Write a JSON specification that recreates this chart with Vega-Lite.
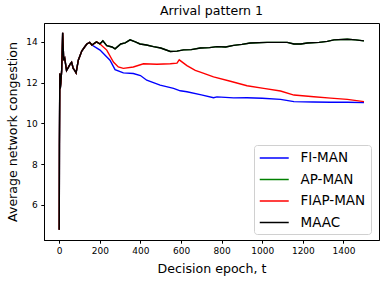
{
  "$schema": "https://vega.github.io/schema/vega-lite/v6.json",
  "width": 335,
  "height": 217,
  "autosize": {"type": "none"},
  "padding": {"left": 44, "top": 23, "right": 6, "bottom": 45},
  "background": "white",
  "title": {"text": "Arrival pattern 1", "font": "DejaVu Sans", "fontSize": 12.6, "fontWeight": "normal", "color": "black", "offset": 5},
  "config": {
    "view": {"stroke": "black", "strokeWidth": 1},
    "axis": {"grid": false, "domainColor": "black", "tickColor": "black", "tickSize": 3.2, "labelFont": "DejaVu Sans", "labelFontSize": 9, "labelColor": "black", "labelPadding": 3.5, "titleFont": "DejaVu Sans", "titleFontSize": 12.6, "titleFontWeight": "normal", "titleColor": "black"},
    "legend": {"orient": "none", "legendX": 210, "legendY": 122, "padding": 5, "strokeColor": "#d0d0d0", "fillColor": "rgba(255,255,255,0.8)", "cornerRadius": 3, "symbolType": "M-1,0H3", "symbolSize": 210, "symbolStrokeWidth": 1.5, "symbolFillColor": "transparent", "labelFont": "DejaVu Sans", "labelFontSize": 13.5, "labelColor": "black", "labelOffset": 25.5, "rowPadding": 6.5, "labelLimit": 200}
  },
  "data": {"values": [
    {"s":"FI-MAN","t":0,"y":4.77},{"s":"FI-MAN","t":1,"y":9.0},{"s":"FI-MAN","t":3,"y":12.45},{"s":"FI-MAN","t":5,"y":11.7},{"s":"FI-MAN","t":8,"y":12.0},{"s":"FI-MAN","t":12,"y":12.6},{"s":"FI-MAN","t":17,"y":14.45},{"s":"FI-MAN","t":22,"y":13.1},{"s":"FI-MAN","t":27,"y":13.2},{"s":"FI-MAN","t":36,"y":12.6},{"s":"FI-MAN","t":45,"y":12.75},{"s":"FI-MAN","t":53,"y":12.9},{"s":"FI-MAN","t":61,"y":13.0},{"s":"FI-MAN","t":69,"y":12.7},{"s":"FI-MAN","t":76,"y":12.6},{"s":"FI-MAN","t":83,"y":12.48},{"s":"FI-MAN","t":94,"y":13.1},{"s":"FI-MAN","t":111,"y":13.55},{"s":"FI-MAN","t":125,"y":13.75},{"s":"FI-MAN","t":136,"y":13.9},{"s":"FI-MAN","t":150,"y":13.98},{"s":"FI-MAN","t":161,"y":13.85},
    {"s":"FI-MAN","t":201,"y":13.6},{"s":"FI-MAN","t":250,"y":13.1},{"s":"FI-MAN","t":275,"y":12.64},{"s":"FI-MAN","t":316,"y":12.48},{"s":"FI-MAN","t":365,"y":12.45},{"s":"FI-MAN","t":400,"y":12.35},{"s":"FI-MAN","t":431,"y":12.12},{"s":"FI-MAN","t":497,"y":11.88},{"s":"FI-MAN","t":563,"y":11.72},{"s":"FI-MAN","t":596,"y":11.6},{"s":"FI-MAN","t":629,"y":11.55},{"s":"FI-MAN","t":700,"y":11.4},{"s":"FI-MAN","t":760,"y":11.26},{"s":"FI-MAN","t":777,"y":11.3},{"s":"FI-MAN","t":859,"y":11.25},{"s":"FI-MAN","t":925,"y":11.26},{"s":"FI-MAN","t":1000,"y":11.23},{"s":"FI-MAN","t":1090,"y":11.18},{"s":"FI-MAN","t":1156,"y":11.07},{"s":"FI-MAN","t":1250,"y":11.05},{"s":"FI-MAN","t":1337,"y":11.04},{"s":"FI-MAN","t":1420,"y":11.04},{"s":"FI-MAN","t":1501,"y":11.02},
    {"s":"AP-MAN","t":0,"y":4.77},{"s":"AP-MAN","t":1,"y":9.0},{"s":"AP-MAN","t":3,"y":12.45},{"s":"AP-MAN","t":5,"y":11.7},{"s":"AP-MAN","t":8,"y":12.0},{"s":"AP-MAN","t":12,"y":12.6},{"s":"AP-MAN","t":17,"y":14.45},{"s":"AP-MAN","t":22,"y":13.1},{"s":"AP-MAN","t":27,"y":13.2},{"s":"AP-MAN","t":36,"y":12.6},{"s":"AP-MAN","t":45,"y":12.75},{"s":"AP-MAN","t":53,"y":12.9},{"s":"AP-MAN","t":61,"y":13.0},{"s":"AP-MAN","t":69,"y":12.7},{"s":"AP-MAN","t":76,"y":12.6},{"s":"AP-MAN","t":83,"y":12.48},{"s":"AP-MAN","t":94,"y":13.1},{"s":"AP-MAN","t":111,"y":13.55},{"s":"AP-MAN","t":125,"y":13.75},{"s":"AP-MAN","t":136,"y":13.9},{"s":"AP-MAN","t":150,"y":13.98},{"s":"AP-MAN","t":161,"y":13.85},
    {"s":"AP-MAN","t":183,"y":14.0},{"s":"AP-MAN","t":200,"y":13.9},{"s":"AP-MAN","t":215,"y":14.05},{"s":"AP-MAN","t":234,"y":13.82},{"s":"AP-MAN","t":260,"y":13.75},{"s":"AP-MAN","t":275,"y":13.66},{"s":"AP-MAN","t":303,"y":13.9},{"s":"AP-MAN","t":325,"y":13.95},{"s":"AP-MAN","t":349,"y":14.1},{"s":"AP-MAN","t":375,"y":14.0},{"s":"AP-MAN","t":398,"y":13.9},{"s":"AP-MAN","t":430,"y":13.85},{"s":"AP-MAN","t":464,"y":13.77},{"s":"AP-MAN","t":500,"y":13.7},{"s":"AP-MAN","t":547,"y":13.53},{"s":"AP-MAN","t":580,"y":13.55},{"s":"AP-MAN","t":612,"y":13.61},{"s":"AP-MAN","t":650,"y":13.62},{"s":"AP-MAN","t":695,"y":13.7},{"s":"AP-MAN","t":740,"y":13.72},{"s":"AP-MAN","t":777,"y":13.77},{"s":"AP-MAN","t":820,"y":13.75},{"s":"AP-MAN","t":859,"y":13.83},{"s":"AP-MAN","t":900,"y":13.88},{"s":"AP-MAN","t":941,"y":13.95},{"s":"AP-MAN","t":1024,"y":13.98},{"s":"AP-MAN","t":1080,"y":13.98},{"s":"AP-MAN","t":1123,"y":13.98},{"s":"AP-MAN","t":1156,"y":13.9},{"s":"AP-MAN","t":1190,"y":13.9},{"s":"AP-MAN","t":1222,"y":13.95},{"s":"AP-MAN","t":1280,"y":13.98},{"s":"AP-MAN","t":1320,"y":14.03},{"s":"AP-MAN","t":1353,"y":14.1},{"s":"AP-MAN","t":1419,"y":14.13},{"s":"AP-MAN","t":1460,"y":14.1},{"s":"AP-MAN","t":1501,"y":14.05},
    {"s":"FIAP-MAN","t":0,"y":4.77},{"s":"FIAP-MAN","t":1,"y":9.0},{"s":"FIAP-MAN","t":3,"y":12.45},{"s":"FIAP-MAN","t":5,"y":11.7},{"s":"FIAP-MAN","t":8,"y":12.0},{"s":"FIAP-MAN","t":12,"y":12.6},{"s":"FIAP-MAN","t":17,"y":14.45},{"s":"FIAP-MAN","t":22,"y":13.1},{"s":"FIAP-MAN","t":27,"y":13.2},{"s":"FIAP-MAN","t":36,"y":12.6},{"s":"FIAP-MAN","t":45,"y":12.75},{"s":"FIAP-MAN","t":53,"y":12.9},{"s":"FIAP-MAN","t":61,"y":13.0},{"s":"FIAP-MAN","t":69,"y":12.7},{"s":"FIAP-MAN","t":76,"y":12.6},{"s":"FIAP-MAN","t":83,"y":12.48},{"s":"FIAP-MAN","t":94,"y":13.1},{"s":"FIAP-MAN","t":111,"y":13.55},{"s":"FIAP-MAN","t":125,"y":13.75},{"s":"FIAP-MAN","t":136,"y":13.9},{"s":"FIAP-MAN","t":150,"y":13.98},{"s":"FIAP-MAN","t":161,"y":13.85},
    {"s":"FIAP-MAN","t":185,"y":14.0},{"s":"FIAP-MAN","t":201,"y":13.9},{"s":"FIAP-MAN","t":234,"y":13.6},{"s":"FIAP-MAN","t":267,"y":13.01},{"s":"FIAP-MAN","t":291,"y":12.77},{"s":"FIAP-MAN","t":316,"y":12.7},{"s":"FIAP-MAN","t":365,"y":12.77},{"s":"FIAP-MAN","t":415,"y":12.93},{"s":"FIAP-MAN","t":481,"y":12.9},{"s":"FIAP-MAN","t":547,"y":12.93},{"s":"FIAP-MAN","t":580,"y":12.96},{"s":"FIAP-MAN","t":591,"y":13.12},{"s":"FIAP-MAN","t":629,"y":12.84},{"s":"FIAP-MAN","t":670,"y":12.6},{"s":"FIAP-MAN","t":695,"y":12.52},{"s":"FIAP-MAN","t":760,"y":12.28},{"s":"FIAP-MAN","t":843,"y":12.07},{"s":"FIAP-MAN","t":925,"y":11.85},{"s":"FIAP-MAN","t":1007,"y":11.72},{"s":"FIAP-MAN","t":1090,"y":11.59},{"s":"FIAP-MAN","t":1156,"y":11.39},{"s":"FIAP-MAN","t":1254,"y":11.31},{"s":"FIAP-MAN","t":1337,"y":11.24},{"s":"FIAP-MAN","t":1419,"y":11.18},{"s":"FIAP-MAN","t":1501,"y":11.07},
    {"s":"MAAC","t":0,"y":4.77},{"s":"MAAC","t":1,"y":9.0},{"s":"MAAC","t":3,"y":12.45},{"s":"MAAC","t":5,"y":11.7},{"s":"MAAC","t":8,"y":12.0},{"s":"MAAC","t":12,"y":12.6},{"s":"MAAC","t":17,"y":14.45},{"s":"MAAC","t":22,"y":13.1},{"s":"MAAC","t":27,"y":13.2},{"s":"MAAC","t":36,"y":12.6},{"s":"MAAC","t":45,"y":12.75},{"s":"MAAC","t":53,"y":12.9},{"s":"MAAC","t":61,"y":13.0},{"s":"MAAC","t":69,"y":12.7},{"s":"MAAC","t":76,"y":12.6},{"s":"MAAC","t":83,"y":12.48},{"s":"MAAC","t":94,"y":13.1},{"s":"MAAC","t":111,"y":13.55},{"s":"MAAC","t":125,"y":13.75},{"s":"MAAC","t":136,"y":13.9},{"s":"MAAC","t":150,"y":13.98},{"s":"MAAC","t":161,"y":13.85},
    {"s":"MAAC","t":183,"y":14.0},{"s":"MAAC","t":200,"y":13.9},{"s":"MAAC","t":215,"y":14.05},{"s":"MAAC","t":234,"y":13.82},{"s":"MAAC","t":260,"y":13.75},{"s":"MAAC","t":275,"y":13.66},{"s":"MAAC","t":303,"y":13.9},{"s":"MAAC","t":325,"y":13.95},{"s":"MAAC","t":349,"y":14.1},{"s":"MAAC","t":375,"y":14.0},{"s":"MAAC","t":398,"y":13.9},{"s":"MAAC","t":430,"y":13.85},{"s":"MAAC","t":464,"y":13.77},{"s":"MAAC","t":500,"y":13.7},{"s":"MAAC","t":547,"y":13.53},{"s":"MAAC","t":580,"y":13.55},{"s":"MAAC","t":612,"y":13.61},{"s":"MAAC","t":650,"y":13.62},{"s":"MAAC","t":695,"y":13.7},{"s":"MAAC","t":740,"y":13.72},{"s":"MAAC","t":777,"y":13.77},{"s":"MAAC","t":820,"y":13.75},{"s":"MAAC","t":859,"y":13.83},{"s":"MAAC","t":900,"y":13.88},{"s":"MAAC","t":941,"y":13.95},{"s":"MAAC","t":1024,"y":13.98},{"s":"MAAC","t":1080,"y":13.98},{"s":"MAAC","t":1123,"y":13.98},{"s":"MAAC","t":1156,"y":13.9},{"s":"MAAC","t":1190,"y":13.9},{"s":"MAAC","t":1222,"y":13.95},{"s":"MAAC","t":1280,"y":13.98},{"s":"MAAC","t":1320,"y":14.03},{"s":"MAAC","t":1353,"y":14.1},{"s":"MAAC","t":1419,"y":14.13},{"s":"MAAC","t":1460,"y":14.1},{"s":"MAAC","t":1501,"y":14.05}
  ]},
  "mark": {"type": "line", "strokeWidth": 1.4, "clip": true},
  "encoding": {
    "x": {"field": "t", "type": "quantitative", "scale": {"domain": [-75, 1575], "nice": false, "zero": false}, "axis": {"title": "Decision epoch, t", "format": "d", "values": [0, 200, 400, 600, 800, 1000, 1200, 1400], "titlePadding": 7}},
    "y": {"field": "y", "type": "quantitative", "scale": {"domain": [4.27, 14.93], "nice": false, "zero": false}, "axis": {"title": "Average network congestion", "values": [6, 8, 10, 12, 14], "titlePadding": 6}},
    "color": {"field": "s", "type": "nominal", "sort": ["FI-MAN", "AP-MAN", "FIAP-MAN", "MAAC"], "scale": {"domain": ["FI-MAN", "AP-MAN", "FIAP-MAN", "MAAC"], "range": ["#0000ff", "#008000", "#ff0000", "#000000"]}, "legend": {"title": null}},
    "order": {"field": "t", "type": "quantitative"}
  }
}
